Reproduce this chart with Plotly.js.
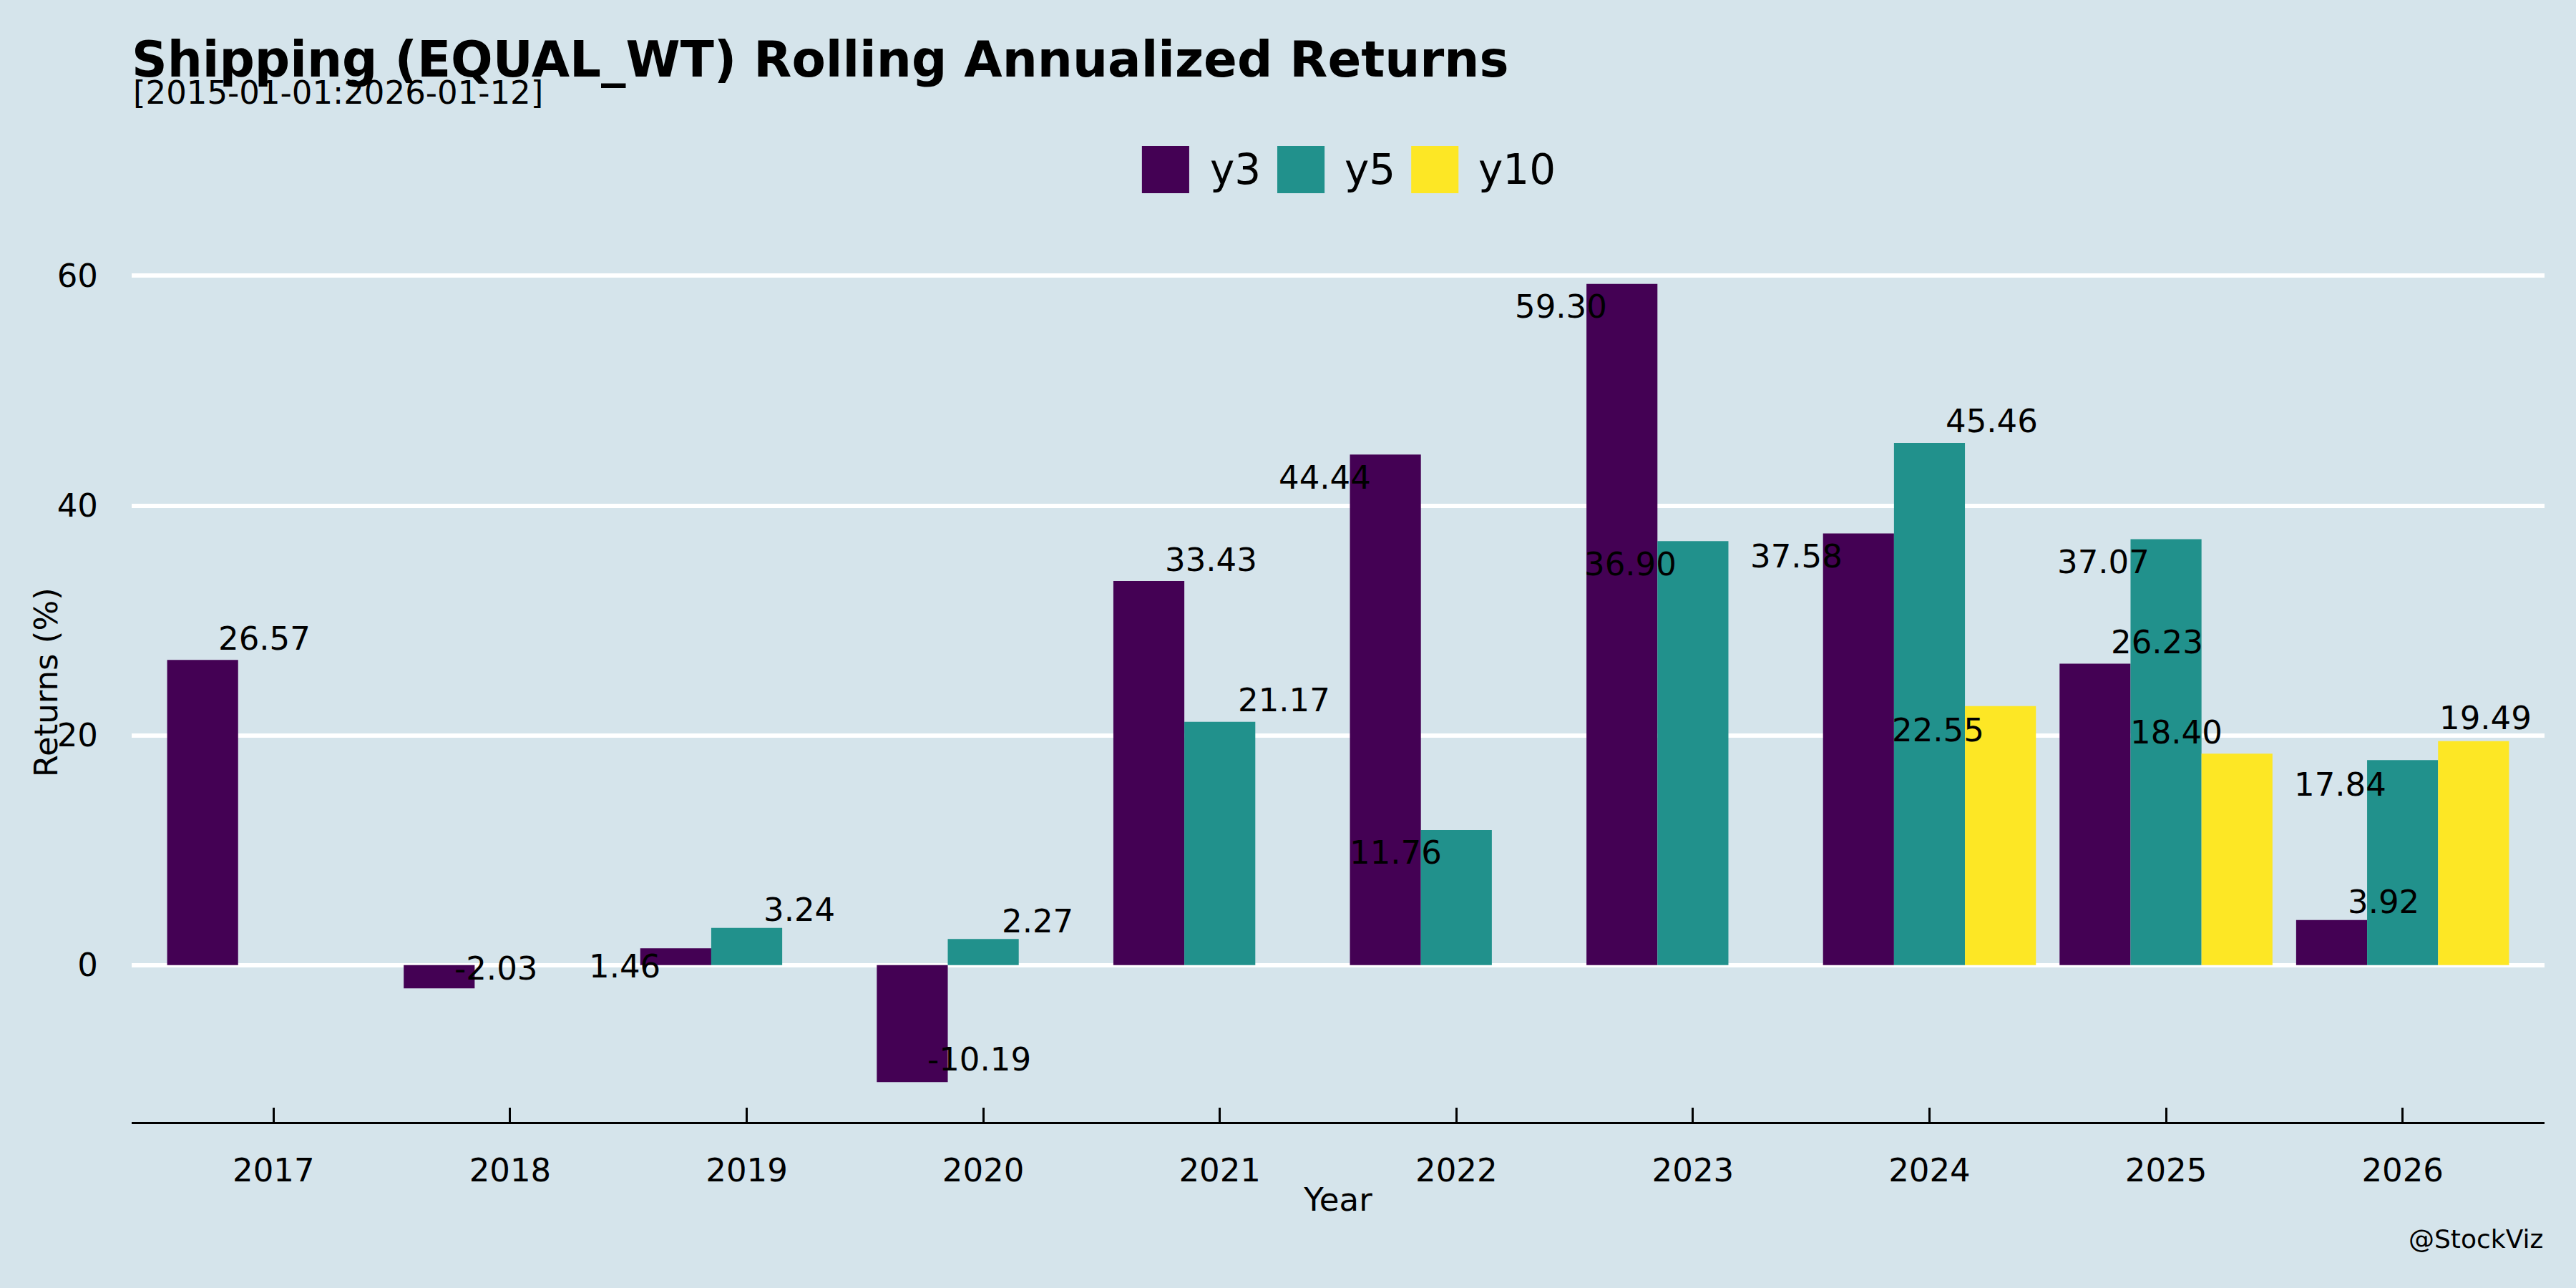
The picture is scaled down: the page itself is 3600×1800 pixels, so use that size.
<!DOCTYPE html>
<html>
<head>
<meta charset="utf-8">
<script src="https://cdn.plot.ly/plotly-3.0.1.min.js"></script>
<style>html,body{margin:0;padding:0;background:#d5e4eb;}#chart{width:3600px;height:1800px;}</style>
</head>
<body>
<div id="chart"></div>
<script>
// ---- data ----
const years = ['2017','2018','2019','2020','2021','2022','2023','2024','2025','2026'];
const y3  = [26.57, -2.03, 1.46, -10.19, 33.43, 44.44, 59.30, 37.58, 26.23, 3.92];
const y5  = [null, null, 3.24, 2.27, 21.17, 11.76, 36.90, 45.46, 37.07, 17.84];
const y10 = [null, null, null, null, null, null, null, 22.55, 18.40, 19.49];
const seriesNames = ['y3', 'y5', 'y10'];
const titleText = 'Shipping (EQUAL_WT) Rolling Annualized Returns';
const subtitleText = '[2015-01-01:2026-01-12]';
const yTitle = 'Returns (%)';
const xTitle = 'Year';

// ---- styling ----
const colors = ['#440154', '#21918c', '#fde725'];
const bg = '#d5e4eb';
const font = 'DejaVu Sans';
// label nudges (pixels) as placed by the original label-repel step
const nudgeX = [
  [86, 79, -71, 94, 87, -85, -85, -87, 87, 73],
  [0, 0, 73, 76, 90, -85, -87, 87, -88, -87],
  [0, 0, 0, 0, 0, 0, 0, -87, -85, 17]
];
const nudgeY = [
  [30, 28, -25, 32, 30, -32, -32, -32, 30, 25],
  [0, 0, 25, 25, 30, -32, -32, 30, -32, -34],
  [0, 0, 0, 0, 0, 0, 0, -34, 30, 32]
];

const allSeries = [y3, y5, y10];
const barOffsets = [-0.3, 0, 0.3];

const traces = allSeries.map((vals, i) => ({
  type: 'bar',
  name: seriesNames[i],
  x: years,
  y: vals,
  marker: {color: colors[i], line: {width: 0}},
  showlegend: false,
  hoverinfo: 'x+y+name'
}));

const annotations = [];
allSeries.forEach((vals, s) => {
  vals.forEach((v, k) => {
    if (v === null) return;
    annotations.push({
      xref: 'x', yref: 'y',
      x: k + barOffsets[s], y: v,
      text: v.toFixed(2),
      showarrow: false,
      xanchor: 'center', yanchor: 'middle',
      xshift: nudgeX[s][k], yshift: nudgeY[s][k],
      font: {family: font, size: 45, color: '#000'}
    });
  });
});

// subtitle
annotations.push({
  xref: 'paper', yref: 'paper', x: 0, y: 1.172,
  xanchor: 'left', yanchor: 'middle', showarrow: false,
  text: subtitleText, font: {family: font, size: 45, color: '#000'}
});
// y axis title
annotations.push({
  xref: 'paper', yref: 'paper', x: -0.0356, y: 0.501,
  xanchor: 'center', yanchor: 'middle', showarrow: false, textangle: -90,
  text: yTitle, font: {family: font, size: 45, color: '#000'}
});
// watermark
annotations.push({
  xref: 'paper', yref: 'paper', x: 1, y: -0.133,
  xanchor: 'right', yanchor: 'middle', showarrow: false,
  text: '@StockViz', font: {family: font, size: 36, color: '#000'}
});

// custom legend (large square keys)
const shapes = [];
const keyX = [0.4187, 0.4748, 0.5303];
const textX = [0.4463, 0.5021, 0.5575];
seriesNames.forEach((n, i) => {
  shapes.push({
    type: 'rect', xref: 'paper', yref: 'paper',
    x0: keyX[i], x1: keyX[i] + 0.0196, y0: 1.0579, y1: 1.1117,
    fillcolor: colors[i], line: {width: 0}
  });
  annotations.push({
    xref: 'paper', yref: 'paper', x: textX[i], y: 1.0848,
    xanchor: 'left', yanchor: 'middle', showarrow: false,
    text: n, font: {family: font, size: 58, color: '#000'}
  });
});

const layout = {
  width: 3600, height: 1800,
  paper_bgcolor: bg, plot_bgcolor: bg,
  font: {family: font, color: '#000', size: 45},
  margin: {l: 184, r: 44, t: 341, b: 232},
  title: {
    text: '<b>' + titleText + '</b>',
    xref: 'paper', x: 0, xanchor: 'left',
    yref: 'container', y: 0.954, yanchor: 'middle',
    font: {family: font, size: 69, color: '#000'}
  },
  barmode: 'group', bargap: 0.1, bargroupgap: 0,
  xaxis: {
    type: 'category',
    range: [-0.6, 9.6],
    showgrid: false,
    showline: true, linecolor: '#000', linewidth: 3,
    ticks: 'inside', ticklen: 20, tickwidth: 3, tickcolor: '#000',
    ticklabelstandoff: 26,
    tickfont: {family: font, size: 45},
    title: {text: xTitle, font: {family: font, size: 45}, standoff: 0},
    zeroline: false, fixedrange: true
  },
  yaxis: {
    range: [-13.66, 62.77],
    tickvals: [0, 20, 40, 60],
    showgrid: true, gridcolor: '#ffffff', gridwidth: 6,
    zeroline: false, showline: false,
    ticks: '', ticklabelstandoff: 46,
    tickfont: {family: font, size: 45},
    fixedrange: true
  },
  annotations: annotations,
  shapes: shapes
};

Plotly.newPlot('chart', traces, layout, {displayModeBar: false, staticPlot: true});
</script>
</body>
</html>
